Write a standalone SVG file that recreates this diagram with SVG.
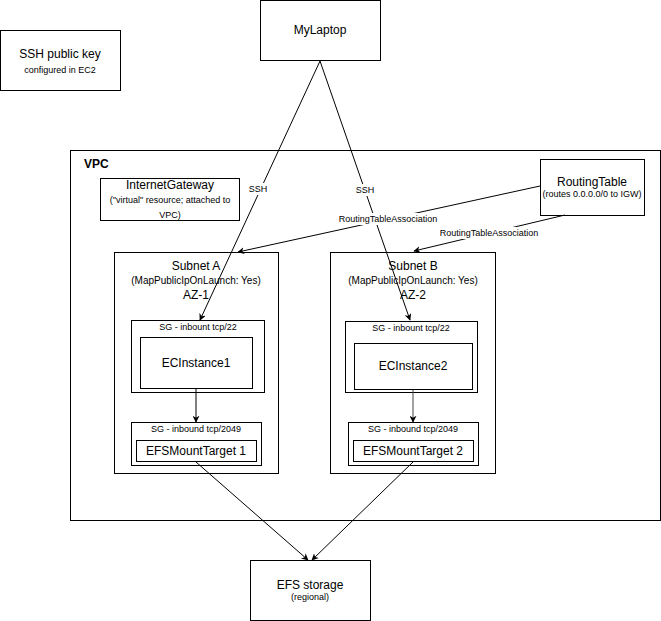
<svg xmlns="http://www.w3.org/2000/svg" width="661" height="621" viewBox="0 0 661 621">
<style>
text{font-family:"Liberation Sans",Arial,sans-serif;fill:#000;text-anchor:middle}
.box{fill:#fff;stroke:#000;stroke-width:1}
.t12{font-size:12px}
.t10{font-size:10px}
.t9{font-size:9px}
.ln{stroke:#000;stroke-width:1;fill:none}
.lb{fill:#fff}
</style>
<defs>
<marker id="ah" viewBox="0 0 10 10" refX="9" refY="5" markerWidth="7" markerHeight="7" orient="auto" markerUnits="userSpaceOnUse"><path d="M0,0 L10,5 L0,10 L3,5 Z" fill="#000"/></marker>
</defs>
<rect width="661" height="621" fill="#fff"/>
<g id="sshkey"><rect class="box" x="0.5" y="30.5" width="120" height="60"/><text class="t12" x="60" y="58">SSH public key</text><text class="t9" x="60" y="73">configured in EC2</text></g>
<g id="mylaptop"><rect class="box" x="260.5" y="0.5" width="120" height="60"/><text class="t12" x="320" y="34">MyLaptop</text></g>
<g id="vpc"><rect class="box" x="70.5" y="150.5" width="590" height="370"/><text class="t12" x="84" y="168" style="font-weight:bold;text-anchor:start">VPC</text></g>
<g id="igw"><rect class="box" x="100.5" y="178.5" width="139" height="42"/><text class="t12" x="170" y="189">InternetGateway</text><text class="t9" x="170" y="203">("virtual" resource; attached to</text><text class="t9" x="170" y="218">VPC)</text></g>
<g id="routingtable"><rect class="box" x="540.5" y="159.5" width="104" height="56"/><text class="t12" x="592" y="186">RoutingTable</text><text class="t9" x="592" y="197">(routes 0.0.0.0/0 to IGW)</text></g>
<g id="subnetA"><rect class="box" x="114.5" y="252.5" width="164" height="221"/><text class="t12" x="196" y="270">Subnet A</text><text class="t10" x="196" y="284">(MapPublicIpOnLaunch: Yes)</text><text class="t12" x="196" y="299">AZ-1</text></g>
<g id="subnetB"><rect class="box" x="330.5" y="252.5" width="165" height="221"/><text class="t12" x="413" y="270">Subnet B</text><text class="t10" x="413" y="284">(MapPublicIpOnLaunch: Yes)</text><text class="t12" x="413" y="299">AZ-2</text></g>
<g id="sg22a"><rect class="box" x="131.5" y="320.5" width="133" height="72"/><text class="t9" x="198" y="330">SG - inbount tcp/22</text></g>
<g id="ec1"><rect class="box" x="140.5" y="337.5" width="112" height="51"/><text class="t12" x="196" y="367">ECInstance1</text></g>
<g id="sg22b"><rect class="box" x="345.5" y="321.5" width="132" height="71"/><text class="t9" x="411" y="331">SG - inbount tcp/22</text></g>
<g id="ec2"><rect class="box" x="354.5" y="343.5" width="118" height="46"/><text class="t12" x="413" y="370">ECInstance2</text></g>
<g id="sg2049a"><rect class="box" x="131.5" y="422.5" width="130" height="43"/><text class="t9" x="196" y="432">SG - inbound tcp/2049</text></g>
<g id="efsmt1"><rect class="box" x="136.5" y="440.5" width="120" height="21"/><text class="t12" x="196" y="455">EFSMountTarget 1</text></g>
<g id="sg2049b"><rect class="box" x="348.5" y="422.5" width="130" height="43"/><text class="t9" x="413" y="432">SG - inbound tcp/2049</text></g>
<g id="efsmt2"><rect class="box" x="353.5" y="440.5" width="120" height="21"/><text class="t12" x="413" y="455">EFSMountTarget 2</text></g>
<g id="efs"><rect class="box" x="250.5" y="560.5" width="120" height="60"/><text class="t12" x="310" y="589">EFS storage</text><text class="t9" x="310" y="600">(regional)</text></g>
<g id="connectors">
<line class="ln" x1="320" y1="61" x2="200" y2="320" marker-end="url(#ah)"/>
<line class="ln" x1="320" y1="61" x2="410" y2="320" marker-end="url(#ah)"/>
<line class="ln" x1="540" y1="186" x2="238" y2="252" marker-end="url(#ah)"/>
<line class="ln" x1="565" y1="215" x2="414" y2="251" marker-end="url(#ah)"/>
<line class="ln" x1="196" y1="389" x2="196" y2="422" marker-end="url(#ah)"/>
<line class="ln" x1="413" y1="390" x2="413" y2="422" marker-end="url(#ah)" style="stroke:#444"/>
<line class="ln" x1="196" y1="462" x2="308" y2="560" marker-end="url(#ah)"/>
<line class="ln" x1="413" y1="462" x2="312" y2="560" marker-end="url(#ah)"/>
<rect class="lb" x="246" y="183" width="24" height="12"/><text class="t9" x="258" y="192">SSH</text>
<rect class="lb" x="353" y="184" width="24" height="12"/><text class="t9" x="365" y="193">SSH</text>
<rect class="lb" x="338" y="213" width="100" height="12"/><text class="t9" x="388" y="222">RoutingTableAssociation</text>
<rect class="lb" x="439" y="227" width="100" height="12"/><text class="t9" x="489" y="236">RoutingTableAssociation</text>
</g>
</svg>
